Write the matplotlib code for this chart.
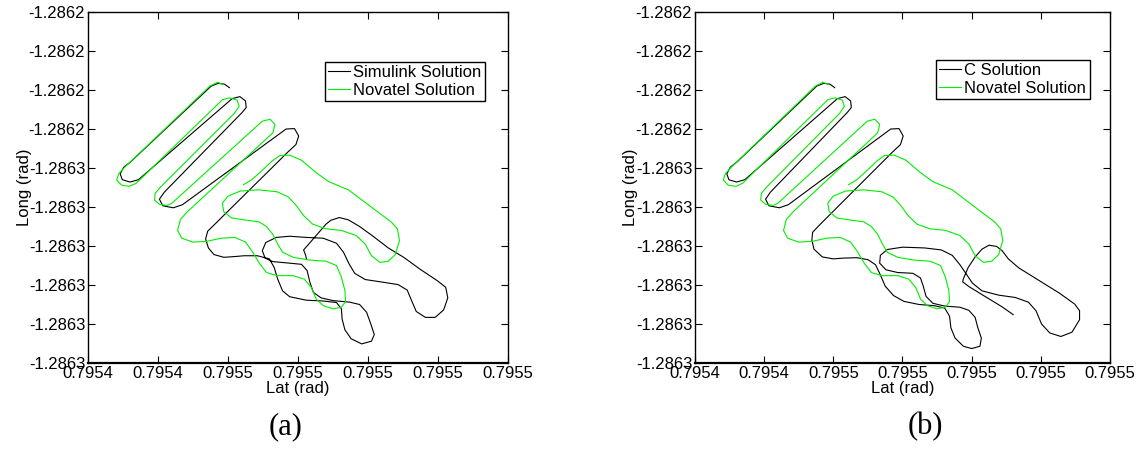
import numpy as np
import matplotlib
matplotlib.use("Agg")
import matplotlib.pyplot as plt

plt.rcParams['font.family'] = ['Liberation Sans', 'DejaVu Sans']

# grid: lat = LAT0 + u*LAT_STEP, long = LON0 - v*LON_STEP  (u, v)
LAT0 = 0.795415
LAT_STEP = 2e-5
LON0 = -1.286215
LON_STEP = 1e-5

x_tick_labels = ['0.7954', '0.7954', '0.7955', '0.7955', '0.7955', '0.7955', '0.7955']
y_tick_labels = ['-1.2862', '-1.2862', '-1.2862', '-1.2862', '-1.2863',
                 '-1.2863', '-1.2863', '-1.2863', '-1.2863', '-1.2863']

# Novatel solution (same in both panels)
nov_u = [1.93, 1.85, 1.74, 0.53, 0.44, 0.41, 0.48, 0.59, 0.69,
         1.92, 2.02, 2.13, 2.16, 2.09,
         1.03, 0.96, 0.95, 1.02, 1.13, 1.20,
         2.49, 2.60, 2.67, 2.64,
         1.42, 1.32, 1.28, 1.34, 1.50, 1.70, 1.90, 2.10, 2.25, 2.35, 2.45, 2.55,
         2.70, 2.93, 3.09, 3.19, 3.26, 3.36, 3.50, 3.62, 3.68, 3.67, 3.62, 3.55,
         3.40, 3.16, 2.93, 2.78, 2.71, 2.64, 2.55, 2.44, 2.23, 2.05, 1.94, 1.92,
         2.00, 2.18, 2.44, 2.70, 2.86, 2.97, 3.08, 3.21, 3.40, 3.62, 3.83, 3.96,
         4.05, 4.17, 4.29, 4.39, 4.45, 4.42, 4.33, 4.12, 3.72, 3.44, 3.26, 3.05,
         2.88, 2.74, 2.63, 2.49, 2.34, 2.22]
nov_v = [1.86, 1.80, 1.90, 3.97, 4.14, 4.31, 4.44, 4.47, 4.39,
         2.25, 2.20, 2.26, 2.42, 2.60,
         4.50, 4.65, 4.82, 4.93, 4.96, 4.90,
         2.80, 2.75, 2.88, 3.10,
         5.12, 5.32, 5.60, 5.80, 5.90, 5.88, 5.80, 5.78, 5.90, 6.15, 6.45, 6.68,
         6.76, 6.76, 6.85, 7.06, 7.36, 7.53, 7.61, 7.57, 7.42, 7.14, 6.80, 6.50,
         6.39, 6.36, 6.29, 6.16, 5.95, 5.70, 5.50, 5.38, 5.33, 5.28, 5.12, 4.90,
         4.72, 4.59, 4.56, 4.61, 4.74, 4.95, 5.22, 5.44, 5.56, 5.60, 5.73, 5.95,
         6.25, 6.42, 6.39, 6.22, 5.86, 5.56, 5.38, 5.10, 4.56, 4.35, 4.12, 3.80,
         3.67, 3.68, 3.82, 4.06, 4.30, 4.43]

# common upper zig-zag of the computed solutions
zig_u = [2.02, 1.95, 1.86, 1.76, 0.61, 0.51, 0.46, 0.49, 0.60, 0.72,
         2.06, 2.17, 2.25, 2.26, 2.20,
         1.09, 1.02, 1.07, 1.22, 1.35,
         2.83, 2.95, 3.01, 2.97, 2.85]
zig_v = [1.94, 1.85, 1.83, 1.90, 3.84, 3.98, 4.15, 4.30, 4.36, 4.30,
         2.22, 2.17, 2.28, 2.45, 2.58,
         4.62, 4.80, 4.97, 5.02, 4.94,
         3.00, 2.99, 3.18, 3.40, 3.60]

# Simulink solution, lower part
sim_u = [1.79, 1.71, 1.68, 1.72, 1.80, 1.94, 2.10, 2.23, 2.42, 2.59, 2.66, 2.71,
         2.78, 2.88, 3.12, 3.36, 3.55, 3.62, 3.63, 3.67, 3.76, 3.91, 4.05, 4.09,
         4.04, 3.98, 3.88, 3.74, 3.50, 3.33, 3.22, 3.17, 3.13, 3.05, 2.88, 2.64,
         2.53, 2.49, 2.54, 2.69, 2.88, 3.12, 3.36, 3.55, 3.65, 3.73, 3.81, 3.96,
         4.22, 4.43, 4.56, 4.62, 4.69, 4.82, 4.96, 5.08, 5.14, 5.11, 4.99, 4.74,
         4.51, 4.29, 4.08, 3.88, 3.72, 3.59, 3.47, 3.40, 3.26, 3.12, 3.08, 3.11, 3.12]
sim_v = [5.48, 5.62, 5.82, 6.05, 6.22, 6.29, 6.27, 6.25, 6.25, 6.33, 6.55, 6.85,
         7.15, 7.30, 7.39, 7.41, 7.45, 7.61, 7.87, 8.15, 8.38, 8.51, 8.44, 8.27,
         8.00, 7.70, 7.50, 7.44, 7.40, 7.33, 7.19, 6.93, 6.63, 6.47, 6.44, 6.40,
         6.31, 6.12, 5.91, 5.78, 5.75, 5.78, 5.80, 5.93, 6.16, 6.46, 6.70, 6.86,
         6.93, 6.99, 7.13, 7.39, 7.68, 7.83, 7.83, 7.64, 7.33, 7.06, 6.89, 6.59,
         6.29, 6.05, 5.76, 5.50, 5.33, 5.27, 5.34, 5.44, 5.73, 6.02, 6.10, 6.24, 6.33]

# C solution, lower part
c_u = [1.79, 1.70, 1.69, 1.72, 1.84, 2.00, 2.15, 2.34, 2.50, 2.61, 2.68, 2.75,
       2.87, 3.02, 3.24, 3.46, 3.61, 3.68, 3.70, 3.76, 3.88, 4.00, 4.12, 4.14,
       4.09, 4.05, 3.96, 3.83, 3.61, 3.44, 3.34, 3.30, 3.26, 3.15, 2.93, 2.76,
       2.67, 2.68, 2.78, 3.00, 3.32, 3.56, 3.72, 3.83, 3.93, 4.01, 4.15, 4.39,
       4.63, 4.82, 4.93, 5.01, 5.13, 5.29, 5.45, 5.56, 5.56, 5.49, 5.27, 4.97,
       4.68, 4.53, 4.44, 4.36, 4.25, 4.15, 4.05, 3.95, 3.88, 3.87, 3.96, 4.19,
       4.44, 4.60]
c_v = [5.48, 5.65, 5.85, 6.08, 6.28, 6.33, 6.31, 6.30, 6.35, 6.48, 6.74, 7.03,
       7.27, 7.42, 7.50, 7.53, 7.59, 7.80, 8.10, 8.36, 8.57, 8.63, 8.57, 8.36,
       8.10, 7.83, 7.65, 7.57, 7.54, 7.47, 7.29, 7.03, 6.82, 6.70, 6.68, 6.61,
       6.44, 6.24, 6.09, 6.03, 6.05, 6.10, 6.24, 6.48, 6.74, 6.95, 7.15, 7.26,
       7.32, 7.44, 7.66, 8.00, 8.23, 8.32, 8.21, 7.89, 7.66, 7.49, 7.21, 6.88,
       6.56, 6.33, 6.12, 6.01, 5.98, 6.08, 6.28, 6.55, 6.84, 6.92, 7.04, 7.29,
       7.56, 7.76]


def to_rad(u, v):
    lat = LAT0 + np.array(u) * LAT_STEP
    lon = LON0 - np.array(v) * LON_STEP
    return lat, lon


def panel(ax, sol_u, sol_v, sol_label):
    lat, lon = to_rad(zig_u + sol_u, zig_v + sol_v)
    ax.plot(lat, lon, color='black', lw=0.8, label=sol_label)
    lat, lon = to_rad(nov_u, nov_v)
    ax.plot(lat, lon, color='#00ee00', lw=0.8, label='Novatel Solution')

    ax.set_xlim(LAT0, LAT0 + 6 * LAT_STEP)
    ax.set_ylim(LON0 - 9 * LON_STEP, LON0)
    ax.set_xticks(LAT0 + np.arange(7) * LAT_STEP)
    ax.set_xticklabels(x_tick_labels)
    ax.set_yticks(LON0 - np.arange(10) * LON_STEP)
    ax.set_yticklabels(y_tick_labels)
    ax.tick_params(direction='in', top=True, right=True, length=5, width=0.8,
                   labelsize=12, pad=2, colors='black')
    for s in ax.spines.values():
        s.set_linewidth(1.0)
        s.set_color('black')
    ax.spines['bottom'].set_linewidth(1.6)
    ax.set_xlabel('Lat (rad)', fontsize=12, labelpad=0)
    ax.set_ylabel('Long (rad)', fontsize=12, labelpad=-2)


fig = plt.figure(figsize=(11.36, 4.5), dpi=100)
ax_a = fig.add_axes([88 / 1136, 87 / 450, 420 / 1136, 351 / 450])
ax_b = fig.add_axes([695 / 1136, 87 / 450, 415 / 1136, 351 / 450])

panel(ax_a, sim_u, sim_v, 'Simulink Solution')
panel(ax_b, c_u, c_v, 'C Solution')

for ax, anchor in [(ax_a, (0.945, 0.858)), (ax_b, (0.951, 0.864))]:
    leg = ax.legend(loc='upper right', bbox_to_anchor=anchor, borderaxespad=0,
                    fontsize=12, handlelength=1.3, handletextpad=0.2,
                    borderpad=0.2, labelspacing=0.15, fancybox=False,
                    framealpha=1, edgecolor='black')
    leg.get_frame().set_linewidth(1.0)

fig.text(286 / 1136, 1 - 427 / 450, '(a)', ha='center', va='center',
         family=['Liberation Serif', 'DejaVu Serif'], fontsize=22)
fig.text(925 / 1136, 1 - 427 / 450, '(b)', ha='center', va='center',
         family=['Liberation Serif', 'DejaVu Serif'], fontsize=22)

fig.savefig('out.png', dpi=100)
